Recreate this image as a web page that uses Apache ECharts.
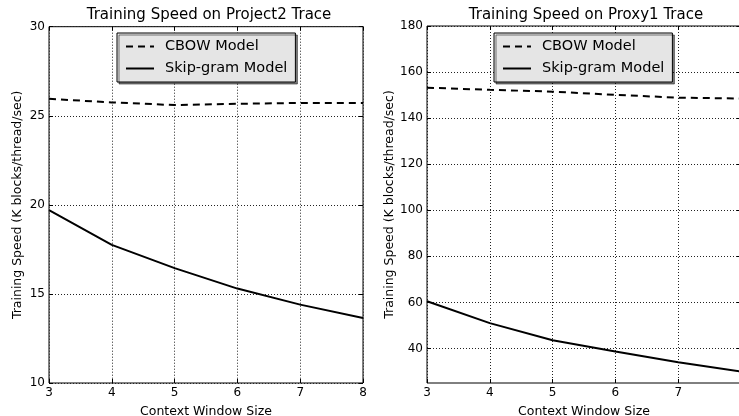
<!DOCTYPE html>
<html lang="en">

<head>
    <meta charset="UTF-8">
    <title>Training Speed</title>
    <script src="https://cdn.jsdelivr.net/npm/echarts@6.0.0/dist/echarts.min.js"></script>
    <style>
        html, body {
            margin: 0;
            padding: 0;
            background: #fff;
        }

        #chart {
            width: 739px;
            height: 416px;
        }
    </style>
</head>

<body>
    <div id="chart"></div>

    <script>
        // data
        var windowSizes = [3, 4, 5, 6, 7, 8];
        var project2Cbow = [25.95, 25.75, 25.6, 25.67, 25.72, 25.72];
        var project2Skip = [19.7, 17.75, 16.45, 15.3, 14.4, 13.65];
        var proxy1Cbow = [153.2, 152.3, 151.5, 150.1, 148.9, 148.5];
        var proxy1Skip = [60.5, 51, 43.6, 38.7, 34, 30];
        var proxy1Ticks = [40, 60, 80, 100, 120, 140, 160, 180];
        var seriesNames = ['CBOW Model', 'Skip-gram Model'];
        var titles = ['Training Speed on Project2 Trace', 'Training Speed on Proxy1 Trace'];

        var font = 'DejaVu Sans';
        var yName = 'Training Speed (K blocks/thread/sec)';

        function pairs(ys) {
            return windowSizes.map(function (x, i) { return [x, ys[i]]; });
        }

        var chart = echarts.init(document.getElementById('chart'));

        var grids = [
            { left: 49, right: 376, top: 26.7, bottom: 33 },
            { left: 427, right: -2, top: 26, bottom: 33 }
        ];
        grids.forEach(function (g) {
            g.show = true;
            g.borderColor = '#000';
            g.borderWidth = 1;
            g.backgroundColor = 'transparent';
            g.containLabel = false;
            g.outerBoundsMode = 'none';
        });

        var splitLine = {
            show: true,
            lineStyle: { color: '#222', width: 1, type: [1, 2] }
        };
        var tick = { show: true, inside: true, length: 4, lineStyle: { color: '#000' } };
        var labelStyle = { color: '#000', fontFamily: font, fontSize: 12 };
        var nameStyle = { color: '#000', fontFamily: font, fontSize: 12.5 };

        function xAxis(gi, main) {
            return {
                type: 'value',
                gridIndex: gi,
                position: main ? 'bottom' : 'top',
                min: 3,
                max: 8,
                interval: 1,
                name: main ? 'Context Window Size' : '',
                nameLocation: 'middle',
                nameGap: 22,
                nameTextStyle: nameStyle,
                axisLine: { show: false },
                axisTick: tick,
                splitLine: main ? splitLine : { show: false },
                axisLabel: main ? Object.assign({
                    margin: 4,
                    formatter: function (v) { return (gi === 1 && v === 8) ? '' : v; }
                }, labelStyle) : { show: false }
            };
        }

        function yAxis(gi, main) {
            var ax = {
                type: 'value',
                gridIndex: gi,
                position: main ? 'left' : 'right',
                name: main ? yName : '',
                nameLocation: 'middle',
                nameGap: gi === 0 ? 24.5 : 30,
                nameTextStyle: nameStyle,
                axisLine: { show: false },
                axisTick: Object.assign({}, tick),
                splitLine: main ? splitLine : { show: false },
                axisLabel: main ? Object.assign({ margin: 4 }, labelStyle) : { show: false }
            };
            if (gi === 0) {
                ax.min = 10;
                ax.max = 30;
                ax.interval = 5;
            } else {
                ax.min = 25;
                ax.max = 180;
                ax.axisTick.customValues = proxy1Ticks;
                ax.axisLabel.customValues = proxy1Ticks;
            }
            return ax;
        }

        function lineSeries(name, gi, ys, dashed) {
            return {
                name: name,
                type: 'line',
                xAxisIndex: gi,
                yAxisIndex: gi,
                data: pairs(ys),
                showSymbol: false,
                symbol: 'none',
                animation: false,
                lineStyle: { color: '#000', width: 2, type: dashed ? [7, 5] : 'solid' },
                itemStyle: { color: '#000' }
            };
        }

        function legend(left) {
            return {
                left: left,
                top: 33,
                orient: 'vertical',
                data: seriesNames,
                itemWidth: 28,
                itemHeight: 14,
                itemGap: 7,
                padding: [6, 8, 6, 8],
                backgroundColor: '#e5e5e5',
                borderColor: '#000',
                borderWidth: 1,
                borderRadius: 0,
                shadowColor: 'rgba(0,0,0,0.5)',
                shadowBlur: 0,
                shadowOffsetX: 2,
                shadowOffsetY: 2,
                selectedMode: false,
                itemStyle: { opacity: 0 },
                lineStyle: { opacity: 1 },
                textStyle: { color: '#000', fontFamily: font, fontSize: 14.5, padding: [0, 0, 0, 6] }
            };
        }

        var titleStyle = { color: '#000', fontFamily: font, fontSize: 15, fontWeight: 'normal' };

        var option = {
            animation: false,
            backgroundColor: '#fff',
            title: [
                { text: titles[0], left: 209, top: 8, textAlign: 'center', padding: 0, textStyle: titleStyle },
                { text: titles[1], left: 586, top: 8, textAlign: 'center', padding: 0, textStyle: titleStyle }
            ],
            legend: [legend(117), legend(494)],
            grid: grids,
            xAxis: [xAxis(0, true), xAxis(1, true), xAxis(0, false), xAxis(1, false)],
            yAxis: [yAxis(0, true), yAxis(1, true), yAxis(0, false), yAxis(1, false)],
            series: [
                lineSeries(seriesNames[0], 0, project2Cbow, true),
                lineSeries(seriesNames[1], 0, project2Skip, false),
                lineSeries(seriesNames[0], 1, proxy1Cbow, true),
                lineSeries(seriesNames[1], 1, proxy1Skip, false)
            ]
        };

        chart.setOption(option);
    </script>
</body>

</html>
